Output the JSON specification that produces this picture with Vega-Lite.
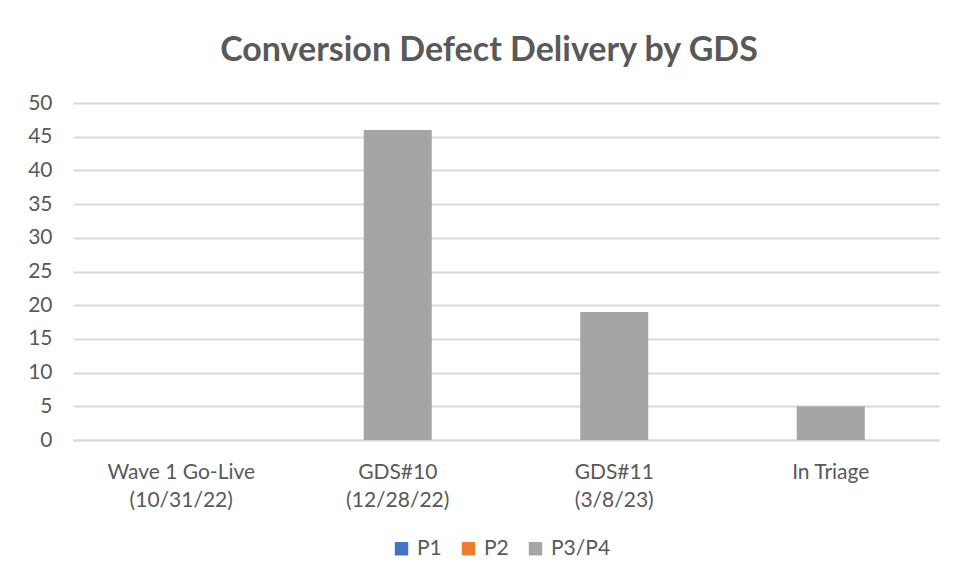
{
  "$schema": "https://vega.github.io/schema/vega-lite/v6.json",
  "autosize": "none",
  "width": 866,
  "height": 337,
  "padding": {"left": 73, "top": 103, "right": 17, "bottom": 148},
  "background": "white",
  "title": {
    "text": "Conversion Defect Delivery by GDS",
    "font": "Lato",
    "fontSize": 34,
    "fontWeight": "bold",
    "color": "#595959",
    "anchor": "middle",
    "dx": -17,
    "offset": 24
  },
  "data": {
    "values": [
      {"release": "Wave 1 Go-Live\n(10/31/22)", "priority": "P1", "count": 0},
      {"release": "Wave 1 Go-Live\n(10/31/22)", "priority": "P2", "count": 0},
      {"release": "Wave 1 Go-Live\n(10/31/22)", "priority": "P3/P4", "count": 0},
      {"release": "GDS#10\n(12/28/22)", "priority": "P1", "count": 0},
      {"release": "GDS#10\n(12/28/22)", "priority": "P2", "count": 0},
      {"release": "GDS#10\n(12/28/22)", "priority": "P3/P4", "count": 46},
      {"release": "GDS#11\n(3/8/23)", "priority": "P1", "count": 0},
      {"release": "GDS#11\n(3/8/23)", "priority": "P2", "count": 0},
      {"release": "GDS#11\n(3/8/23)", "priority": "P3/P4", "count": 19},
      {"release": "In Triage", "priority": "P1", "count": 0},
      {"release": "In Triage", "priority": "P2", "count": 0},
      {"release": "In Triage", "priority": "P3/P4", "count": 5}
    ]
  },
  "mark": {"type": "bar", "size": 68},
  "encoding": {
    "x": {
      "field": "release",
      "type": "nominal",
      "sort": null,
      "scale": {"paddingInner": 0, "paddingOuter": 0},
      "axis": {
        "title": null,
        "labelAngle": 0,
        "labelExpr": "split(datum.label, '\\n')",
        "labelFont": "Lato",
        "labelFontSize": 21,
        "labelColor": "#595959",
        "labelPadding": 21,
        "labelLineHeight": 28,
        "labelBaseline": "top",
        "ticks": false,
        "domainColor": "#D9D9D9",
        "domainWidth": 2,
        "grid": false
      }
    },
    "y": {
      "field": "count",
      "type": "quantitative",
      "stack": true,
      "scale": {"domain": [0, 50], "nice": false},
      "axis": {
        "title": null,
        "values": [0, 5, 10, 15, 20, 25, 30, 35, 40, 45, 50],
        "labelFont": "Lato",
        "labelFontSize": 21,
        "labelColor": "#595959",
        "labelPadding": 21,
        "ticks": false,
        "domain": false,
        "grid": true,
        "gridColor": "#D9D9D9",
        "gridWidth": 2
      }
    },
    "color": {
      "field": "priority",
      "type": "nominal",
      "scale": {"domain": ["P1", "P2", "P3/P4"], "range": ["#4472C4", "#ED7D31", "#A5A5A5"]},
      "legend": {
        "title": null,
        "orient": "none",
        "direction": "horizontal",
        "legendX": 318,
        "legendY": 435,
        "symbolType": "square",
        "symbolSize": 180,
        "symbolStrokeWidth": 0,
        "labelFont": "Lato",
        "labelFontSize": 21,
        "labelColor": "#595959",
        "labelOffset": 5,
        "columnPadding": 16
      }
    }
  },
  "config": {"view": {"stroke": null}}
}
